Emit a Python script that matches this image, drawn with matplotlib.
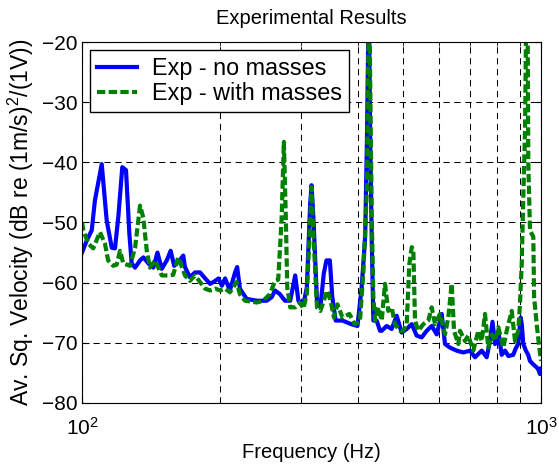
import numpy as np
import matplotlib
matplotlib.use("Agg")
from matplotlib import pyplot as plt
from matplotlib.ticker import NullFormatter

plt.rcParams['font.family'] = ['Liberation Sans', 'DejaVu Sans']
plt.rcParams['mathtext.fontset'] = 'custom'
plt.rcParams['mathtext.rm'] = 'Liberation Sans'
plt.rcParams['mathtext.it'] = 'Liberation Sans:italic'
plt.rcParams['mathtext.default'] = 'regular'

# Exp - no masses
freq_nomass = [100, 102.4, 105, 106.7, 110.4, 113.2, 116.1, 118, 120, 122.4,
               124.7, 126.8, 128.3, 130.5, 133.8, 136, 139.5, 143, 146, 149.2,
               153, 156, 158.8, 163.5, 166.2, 167.6, 171.8, 176.3, 180.8, 185.5,
               190.2, 195.1, 198.3, 201.7, 205, 210, 215.5, 217.8, 220.8, 228.4,
               240.3, 252.6, 259, 263.3, 269.8, 276.7, 284.2, 291.4, 296.1, 303.6,
               308.9, 314.1, 316.3, 319.5, 325, 330.6, 336.3, 340.9, 346.7, 351,
               357, 369.5, 385.9, 398.2, 406.7, 413.9, 417.7, 421.5, 424.3, 427.9,
               431.3, 438.5, 446, 449.7, 461.1, 472.8, 484.8, 497.1, 509.8, 522.8,
               536, 549.7, 563.6, 578, 592.7, 607.7, 617.8, 633.5, 655.2, 677.2,
               700.3, 718.1, 742.8, 761.6, 774, 784, 794, 807, 821, 835,
               849, 870, 880, 892, 903, 908, 915, 927, 938, 946,
               962, 979, 986, 995, 1000]
db_nomass = [-55, -53, -51.3, -46.3, -40.3, -49.7, -54.2, -54.3, -49, -40.8,
             -41.3, -51.8, -56.8, -57.5, -56.3, -55.8, -56.8, -57.5, -55, -57.7,
             -56.3, -54.7, -57.2, -56.2, -55.5, -57.4, -59.1, -58.3, -58.3, -59.3,
             -60.2, -59.7, -59.3, -60.5, -59.3, -61.3, -58.3, -57.4, -61, -62.7,
             -63, -63, -62.4, -61.3, -61.9, -63, -63, -58.8, -63, -63.6,
             -60.8, -46.9, -43.8, -49.7, -63, -64.1, -58.5, -56.3, -56.3, -62.4,
             -66.3, -66.3, -66.9, -67.2, -60.8, -52.4, -36, -12, -35, -53.5,
             -66.3, -66.3, -68, -68, -67.2, -67.7, -65.5, -68.3, -67.7, -66.9,
             -68.8, -69.1, -68, -67.2, -68.6, -65.2, -70.2, -70.8, -71.3, -71.6,
             -71.3, -72.4, -71.3, -72.4, -69.7, -66.5, -70.2, -68, -72, -71.3,
             -72.2, -72, -71, -70.2, -65.8, -66.9, -70.2, -71.3, -72, -73,
             -73.6, -74.1, -74.4, -75.2, -74.3]

# Exp - with masses
freq_mass = [100, 100.7, 103.2, 105.8, 109.4, 112.2, 114, 117, 119, 121,
             123, 127.2, 130.5, 133.8, 136, 138.4, 140.6, 144.3, 149.2, 154.1,
             158, 162, 166.2, 167.6, 171.8, 176.3, 180.8, 185.5, 190.2, 195.1,
             200, 205, 210, 217.2, 220.8, 226.5, 240.3, 248.2, 256.7, 263.3,
             267.6, 272.1, 275.3, 278.1, 280, 284.2, 291.4, 298.6, 303.6, 308.9,
             314.1, 316.3, 319.5, 325, 330.6, 336.3, 342.2, 347.9, 353.9, 360.1,
             369.5, 382.5, 392.7, 403.1, 410.4, 417.7, 420, 422.5, 425, 427.9,
             431.3, 435, 442.1, 449.7, 457.2, 464.8, 472.8, 480.7, 492.9, 501,
             509.8, 516.6, 522.8, 527, 531.5, 540.4, 554.2, 568.2, 578, 587.6,
             602.6, 617.8, 628.1, 638.9, 646.4, 660.5, 666.1, 683, 694.4, 712,
             730.2, 742.8, 755.1, 767.7, 780.9, 794, 807.2, 827.7, 841.9, 863.3,
             877.8, 892.3, 900, 903, 907.8, 915, 922.9, 927.2, 931, 935,
             938.3, 946.3, 962.1, 966, 978.6, 991.5, 1000]
db_mass = [-50, -51.3, -53.5, -54.3, -51.6, -53.5, -56.3, -57.2, -57, -54.7,
           -56.8, -57.2, -54.2, -47.2, -49.2, -54.7, -57.5, -56.3, -58.8, -58.8,
           -58.7, -55.8, -58, -58.8, -59.7, -58.8, -59.9, -61, -61.3, -61,
           -61.3, -61, -61.6, -59.9, -61.9, -63, -63.3, -63, -61.9, -59.7,
           -59.5, -49.7, -36.6, -49.7, -60.8, -64.1, -64.1, -63.3, -64.3, -61.9,
           -49.7, -44.1, -52.4, -64.1, -64.7, -63, -61.3, -63, -65.8, -63.6,
           -65.8, -65.2, -66.9, -66.5, -58, -44.1, -25, -12, -30, -49.1,
           -62.4, -66.3, -64.1, -66.3, -60.2, -64.7, -64.1, -66.9, -68, -68,
           -66.9, -56.9, -54.1, -54.4, -66.3, -68, -66.9, -66.3, -64.1, -66.9,
           -65.2, -68.6, -65.8, -60.2, -68, -70.2, -68, -69.7, -68.8, -71.3,
           -68, -69.7, -65.2, -70.8, -68.6, -69.7, -67.4, -70.8, -68, -64.7,
           -69.7, -68, -63.5, -60.8, -56.9, -45.8, -34.7, -20, -10, -15,
           -40.2, -51.3, -52.4, -62.4, -66.9, -70.8, -73]

fig = plt.figure(figsize=(5.59, 4.70), dpi=100)
ax = fig.add_axes([0.1467, 0.1426, 0.8211, 0.768])

ax.plot(freq_nomass, db_nomass, color='#0000ff', lw=3, label='Exp - no masses')
ax.plot(freq_mass, db_mass, color='#008000', lw=3, ls=(0, (2, 0.8)),
        label='Exp - with masses')

ax.set_xscale('log')
ax.set_xlim(100, 1000)
ax.set_ylim(-80, -20)
ax.set_yticks(np.arange(-80, -19, 10))
ax.xaxis.set_minor_formatter(NullFormatter())

ax.grid(True, which='both', color='k', ls=(0, (6, 4.5)), lw=0.75)
ax.tick_params(which='both', direction='in', top=True, right=True,
               labelsize=15)
ax.tick_params(axis='x', which='major', pad=10)
ax.tick_params(which='major', length=5)
ax.tick_params(which='minor', length=3)

ax.set_title('Experimental Results', fontsize=14.5, pad=13)
ax.set_xlabel('Frequency (Hz)', fontsize=14.5, labelpad=3)
ax.set_ylabel('Av. Sq. Velocity (dB re (1m/s)$^2$/(1V))', fontsize=16.5,
              labelpad=4)

leg = ax.legend(loc='upper left', fontsize=16.8, fancybox=False,
                edgecolor='k', framealpha=1, handlelength=1.7,
                handletextpad=0.65, borderaxespad=0.35, labelspacing=0.08,
                borderpad=0.3)
leg.get_frame().set_linewidth(1)

plt.savefig('out.png', dpi=100)
plt.close()
